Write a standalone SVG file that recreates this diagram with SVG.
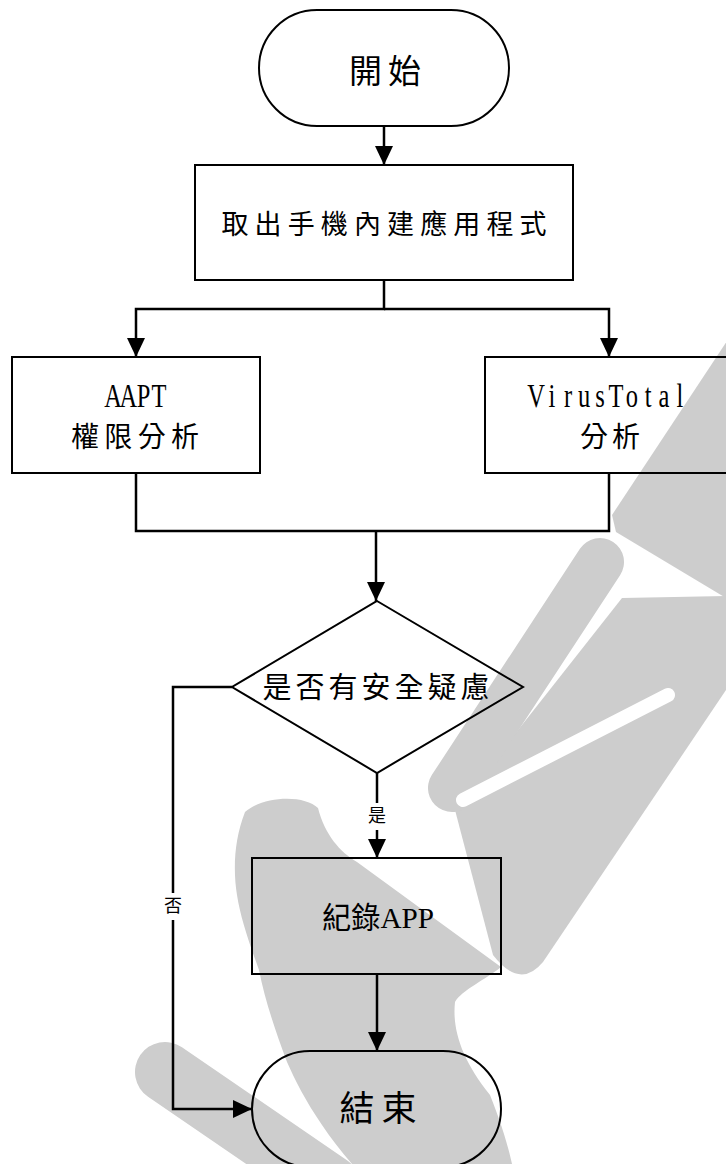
<svg xmlns="http://www.w3.org/2000/svg" width="726" height="1164" viewBox="0 0 726 1164">
  <style>
    .wm { fill: #cdcdcd; stroke: none; }
    .wml { stroke: #cdcdcd; fill: none; stroke-linecap: round; }
    .shape { fill: none; stroke: #000; stroke-width: 2; }
    .conn { fill: none; stroke: #000; stroke-width: 2.5; }
    .txt { font-family: 'Liberation Serif', 'Noto Sans CJK TC', serif; fill: #000; text-anchor: middle; dominant-baseline: central; }
    .lbl { font-family: 'Liberation Serif', 'Noto Sans CJK TC', serif; font-size: 18px; fill: #000; text-anchor: middle; dominant-baseline: central; }
  </style>
  <defs>
    <marker id="arrow" markerWidth="19" markerHeight="18" refX="19" refY="9" orient="auto" markerUnits="userSpaceOnUse">
      <path d="M0,0 L19,9 L0,18 Z" fill="#000"/>
    </marker>
  </defs>
  <rect x="0" y="0" width="726" height="1164" fill="#fff"/>

  <g id="watermark">
    <polygon class="wm" points="731,335 726,598 616,532 612,515"/>
    <path class="wm" d="M622,598 L726,596 L726,690 L543,962 Q520,990 493,955 L455,810 Z"/>
    <line class="wml" x1="600" y1="562" x2="452" y2="788" stroke-width="48"/>
    <line x1="668" y1="695" x2="463" y2="800" stroke="#fff" stroke-width="14" stroke-linecap="round"/>
    <path class="wm" d="M245,812 C265,795 305,795 318,808 C325,835 340,852 357,862 L501,967 C485,980 462,990 455,1002 C452,1030 462,1060 490,1095 C500,1120 508,1145 512,1164 L352,1164 C340,1150 330,1137 322,1125 C305,1100 295,1080 287,1062 C275,1030 265,1000 259,970 C248,940 240,915 237,895 C233,870 234,840 245,812 Z"/>
    <line class="wml" x1="165" y1="1072" x2="330" y2="1185" stroke-width="60"/>
  </g>

  <g id="connectors">
    <path class="conn" d="M384,126 V165" marker-end="url(#arrow)"/>
    <path class="conn" d="M384,280 V309 H136 V357" marker-end="url(#arrow)"/>
    <path class="conn" d="M384,309 H609 V357" marker-end="url(#arrow)"/>
    <path class="conn" d="M136,473 V531 H609 V473"/>
    <path class="conn" d="M376,531 V601" marker-end="url(#arrow)"/>
    <path class="conn" d="M377,773 V858" marker-end="url(#arrow)"/>
    <path class="conn" d="M232,687 H173 V1109 H252" marker-end="url(#arrow)"/>
    <path class="conn" d="M377,974 V1051" marker-end="url(#arrow)"/>
    <rect x="366" y="803" width="22" height="27" fill="#fff"/>
    <text class="lbl" x="377" y="816">是</text>
    <rect x="162" y="893" width="22" height="27" fill="#fff"/>
    <text class="lbl" x="173" y="906">否</text>
  </g>

  <g id="start">
    <rect class="shape" x="259" y="10" width="250" height="116" rx="58" ry="58"/>
    <text class="txt" x="385" y="72" font-size="33" textLength="72" lengthAdjust="spacing">開始</text>
  </g>
  <g id="extract">
    <rect class="shape" x="195" y="165" width="378" height="115"/>
    <text class="txt" x="384" y="225" font-size="27" textLength="325" lengthAdjust="spacing">取出手機內建應用程式</text>
  </g>
  <g id="aapt">
    <rect class="shape" x="12" y="357" width="248" height="116"/>
    <text class="txt" transform="translate(136,396) scale(0.72,1)" x="-31.8 -10.6 10.6 31.8" y="0" font-size="34">AAPT</text>
    <text class="txt" x="135" y="437" font-size="28" textLength="128" lengthAdjust="spacing">權限分析</text>
  </g>
  <g id="virustotal">
    <rect class="shape" x="485" y="357" width="250" height="116"/>
    <text class="txt" transform="translate(608,396) scale(0.72,1)" x="-100 -77.8 -55.6 -33.3 -11.1 11.1 33.3 55.6 77.8 100" y="0" font-size="34">VirusTotal</text>
    <text class="txt" x="610" y="437" font-size="28" textLength="60" lengthAdjust="spacing">分析</text>
  </g>
  <g id="decision">
    <polygon class="shape" points="377,601 523,687 377,773 232,687"/>
    <text class="txt" x="376" y="688" font-size="29" textLength="227" lengthAdjust="spacing">是否有安全疑慮</text>
  </g>
  <g id="record">
    <rect class="shape" x="252" y="858" width="249" height="116"/>
    <text class="txt" x="378" y="917" font-size="30" textLength="112" lengthAdjust="spacingAndGlyphs">紀錄APP</text>
  </g>
  <g id="end">
    <rect class="shape" x="252" y="1051" width="249" height="116" rx="58" ry="58"/>
    <text class="txt" x="378" y="1109" font-size="35" textLength="77" lengthAdjust="spacing">結束</text>
  </g>
</svg>
